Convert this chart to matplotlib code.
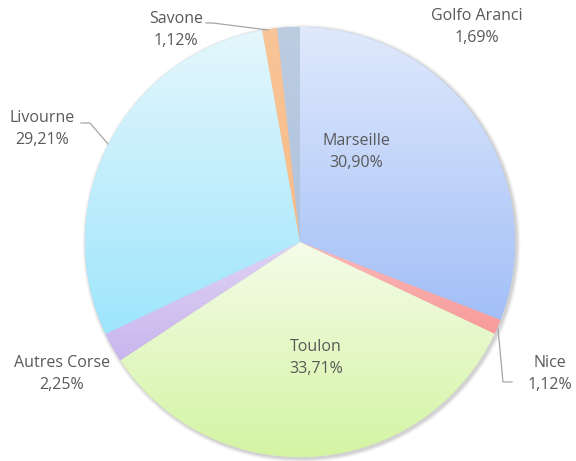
import numpy as np
import matplotlib
matplotlib.use('Agg')
import matplotlib.pyplot as plt
from matplotlib.colors import to_rgb
from matplotlib.patches import Circle

plt.rcParams.update({'font.family': ['Open Sans', 'DejaVu Sans']})

# data
ports = ['Marseille', 'Nice', 'Toulon', 'Autres Corse', 'Livourne', 'Savone', 'Golfo Aranci']
shares = [30.90, 1.12, 33.71, 2.25, 29.21, 1.12, 1.69]
labels_pct = ['30,90%', '1,12%', '33,71%', '2,25%', '29,21%', '1,12%', '1,69%']

# colours (top, bottom) of each slice gradient
top_cols = ['#e0e9fc', '#fbb9b9', '#f5fce9', '#ded2f3', '#e5f7fd', '#f9c598', '#bccde2']
bot_cols = ['#a2bff7', '#f89a9a', '#d4f4a3', '#c9b6ee', '#9ee5fc', '#f8bb86', '#b0c3dc']

# layout in pixel coords (y from top)
W, H = 576, 461
cx, cy, R = 300, 242, 215
label_pos = [(356, 152), (550, 374), (316, 358), (62, 374), (42, 129), (176, 30), (477, 27)]
leaders = {1: [(498, 329), (503, 382), (512, 382)],
           4: [(81, 123), (90, 123), (108, 144)],
           5: [(206, 23), (213, 23), (268, 30)]}

fig = plt.figure(figsize=(W / 100, H / 100), dpi=100)
ax = fig.add_axes([0, 0, 1, 1])

# soft shadow
for k, a in zip([4, 3, 2, 1], [0.03, 0.04, 0.05, 0.06]):
    ax.add_patch(Circle((cx + 1.5, H - cy - 1.5), R + k, color='black', alpha=a, lw=0, zorder=0))

wedges, _ = ax.pie(shares, startangle=90, counterclock=False, center=(cx, H - cy),
                   radius=R, frame=True, wedgeprops=dict(linewidth=0))

for w, tc, bc in zip(wedges, top_cols, bot_cols):
    w.set_facecolor(bc)
    ext = w.get_path().get_extents()
    t = np.linspace(0, 1, 256)[:, None]
    grad = (1 - t) * np.array(to_rgb(bc)) + t * np.array(to_rgb(tc))
    im = ax.imshow(grad[:, None, :], extent=[ext.x0, ext.x1, ext.y0, ext.y1],
                   origin='lower', aspect='auto', zorder=2, interpolation='bilinear')
    im.set_clip_path(w)

for i, (name, pct) in enumerate(zip(ports, labels_pct)):
    x, y = label_pos[i]
    ax.text(x, H - y, name + '\n' + pct, ha='center', va='center', fontsize=11.5,
            color='#595959', linespacing=1.5, zorder=5)

for i, pts in leaders.items():
    xs = [p[0] for p in pts]
    ys = [H - p[1] for p in pts]
    ax.plot(xs, ys, color='#a6a6a6', lw=0.9, zorder=4)

ax.set_xlim(0, W)
ax.set_ylim(0, H)
ax.set_aspect('auto')
ax.axis('off')

fig.savefig('out.png', dpi=100, facecolor='white')
